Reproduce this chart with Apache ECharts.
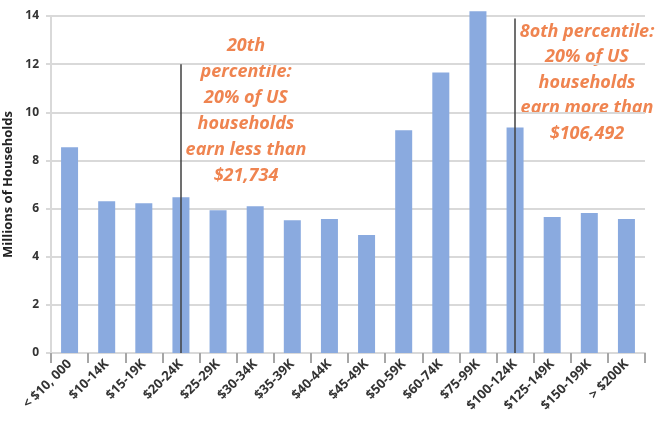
<!DOCTYPE html>
<html><head><meta charset="utf-8">
<script src="https://cdn.jsdelivr.net/npm/echarts@6/dist/echarts.min.js"></script>
<style>html,body{margin:0;padding:0;background:#fff}#c{width:660px;height:422px}</style>
</head><body><div id="c"></div>
<script>
const categories = ['< $10, 000','$10-14K','$15-19K','$20-24K','$25-29K','$30-34K','$35-39K','$40-44K','$45-49K','$50-59K','$60-74K','$75-99K','$100-124K','$125-149K','$150-199K','> $200K'];
const households = [8.55, 6.3, 6.22, 6.47, 5.93, 6.1, 5.52, 5.57, 4.9, 9.25, 11.65, 14.2, 9.37, 5.65, 5.82, 5.57];
const yTicks = [0, 2, 4, 6, 8, 10, 12, 14];
const pct20 = {category: '$20-24K', top: 12};
const pct80 = {category: '$100-124K', top: 13.9};
const note20 = ['20th', 'percentile:', '20% of US', 'households', 'earn less than', '$21,734'];
const note80 = ['8oth percentile:', '20% of US', 'households', 'earn more than', '$106,492'];

const chart = echarts.init(document.getElementById('c'));
const textFont = '"Open Sans", Lato, sans-serif';
chart.setOption({
  animation: false,
  grid: {left: 51, right: 15, top: 16, bottom: 69, containLabel: false, outerBoundsMode: 'none'},
  xAxis: {
    type: 'category', data: categories,
    axisLine: {lineStyle: {color: '#d9d9d9', width: 2}},
    axisTick: {show: true, length: 10, lineStyle: {color: '#a6a6a6', width: 2}},
    axisLabel: {rotate: 45, interval: 0, fontFamily: textFont, fontWeight: 'bold', fontSize: 13, color: '#333', margin: 9}
  },
  yAxis: {
    type: 'value', min: yTicks[0], max: yTicks[yTicks.length-1], interval: 2,
    name: 'Millions of Households', nameLocation: 'middle', nameGap: 32,
    nameTextStyle: {fontFamily: textFont, fontWeight: 'bold', fontSize: 13, color: '#222'},
    axisLine: {show: true, lineStyle: {color: '#d9d9d9', width: 2}},
    axisTick: {show: true, length: 5, lineStyle: {color: '#d9d9d9', width: 2}},
    splitLine: {lineStyle: {color: '#d9d9d9', width: 2}},
    axisLabel: {fontFamily: textFont, fontWeight: 'bold', fontSize: 12, color: '#333', margin: 12}
  },
  series: [{
    type: 'bar', data: households, barWidth: 17, clip: false,
    itemStyle: {color: '#8AAADF'},
    markLine: {
      symbol: 'none', silent: true, label: {show: false},
      lineStyle: {color: '#404040', width: 1.5, type: 'solid'},
      data: [
        [{coord: [pct20.category, 0]}, {coord: [pct20.category, pct20.top]}],
        [{coord: [pct80.category, 0]}, {coord: [pct80.category, pct80.top]}]
      ]
    }
  }],
  graphic: [
    {type: 'text', left: 246 - 80, top: 33, style: {text: note20.join('\n'), width: 160, align: 'center', textAlign: 'center', x: 80, fill: '#EF8450', font: 'italic bold 18px ' + textFont, lineHeight: 26}},
    {type: 'text', left: 587 - 80, top: 19, style: {text: note80.join('\n'), width: 160, align: 'center', textAlign: 'center', x: 80, fill: '#EF8450', font: 'italic bold 18px ' + textFont, lineHeight: 25.5}}
  ]
});
</script></body></html>
